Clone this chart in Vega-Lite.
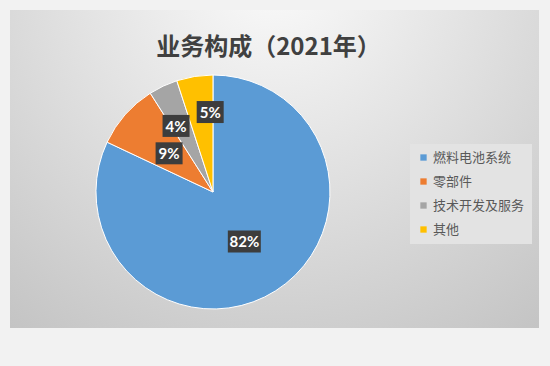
{
  "$schema": "https://vega.github.io/schema/vega-lite/v6.json",
  "width": 529,
  "height": 318,
  "autosize": {"type": "none"},
  "padding": {"left": 10, "top": 10, "right": 11, "bottom": 38},
  "background": "#F2F2F2",
  "title": {
    "text": "业务构成（2021年）",
    "font": "Noto Sans CJK SC",
    "fontSize": 24,
    "fontWeight": "bold",
    "color": "#404040",
    "anchor": "middle",
    "offset": -50,
    "dx": -6
  },
  "config": {
    "view": {
      "stroke": null,
      "fill": {
        "gradient": "radial",
        "x1": 0.5, "y1": 0.12, "r1": 0,
        "x2": 0.5, "y2": 0.12, "r2": 0.95,
        "stops": [
          {"offset": 0, "color": "#FBFBFB"},
          {"offset": 1, "color": "#BDBDBD"}
        ]
      }
    }
  },
  "data": {
    "values": [
      {"cat": "燃料电池系统", "value": 82, "idx": 1, "label": "82%"},
      {"cat": "零部件", "value": 9, "idx": 2, "label": "9%"},
      {"cat": "技术开发及服务", "value": 4, "idx": 3, "label": "4%"},
      {"cat": "其他", "value": 5, "idx": 4, "label": "5%"}
    ]
  },
  "layer": [
    {
      "mark": {"type": "arc", "outerRadius": 117, "stroke": "#FFFFFF", "strokeWidth": 1},
      "encoding": {
        "theta": {"field": "value", "type": "quantitative", "stack": true},
        "order": {"field": "idx", "type": "quantitative"},
        "x": {"datum": 0.3837, "type": "quantitative", "scale": {"domain": [0, 1]}, "axis": null},
        "y": {"datum": 0.4277, "type": "quantitative", "scale": {"domain": [0, 1]}, "axis": null},
        "color": {
          "field": "cat",
          "type": "nominal",
          "sort": null,
          "scale": {
            "domain": ["燃料电池系统", "零部件", "技术开发及服务", "其他"],
            "range": ["#5B9BD5", "#ED7D31", "#A5A5A5", "#FFC000"]
          },
          "legend": {
            "title": null,
            "orient": "none",
            "legendX": 400,
            "legendY": 134,
            "fillColor": "#E3E3E3",
            "padding": 7,
            "symbolType": "square",
            "symbolSize": 40,
            "symbolStrokeWidth": 0,
            "labelFont": "Noto Sans CJK SC",
            "labelFontSize": 13,
            "labelColor": "#595959",
            "rowPadding": 10,
            "labelOffset": 3
          }
        }
      }
    },
    {
      "transform": [
        {"joinaggregate": [{"op": "sum", "field": "value", "as": "total"}]},
        {"window": [{"op": "sum", "field": "value", "as": "cum"}], "sort": [{"field": "idx"}], "frame": [null, 0]},
        {"calculate": "datum.idx == 3 ? -4 : datum.idx == 4 ? 7 : 0", "as": "da"},
        {"calculate": "datum.idx == 3 ? 75.7 : datum.idx == 4 ? 80 : 58.5", "as": "lr"},
        {"calculate": "(datum.cum - datum.value / 2) / datum.total * 2 * PI + datum.da * PI / 180", "as": "mid"},
        {"calculate": "0.3837 + datum.lr * sin(datum.mid) / 529", "as": "lx"},
        {"calculate": "0.4277 + datum.lr * cos(datum.mid) / 318", "as": "ly"}
      ],
      "encoding": {
        "x": {"field": "lx", "type": "quantitative", "scale": {"domain": [0, 1]}, "axis": null},
        "y": {"field": "ly", "type": "quantitative", "scale": {"domain": [0, 1]}, "axis": null}
      },
      "layer": [
        {
          "transform": [{"filter": "datum.idx == 1"}],
          "mark": {"type": "point", "shape": "M-1,-0.667L1,-0.667L1,0.667L-1,0.667Z", "size": 1089, "filled": true, "color": "#3D3D3D", "opacity": 1}
        },
        {
          "transform": [{"filter": "datum.idx > 1"}],
          "mark": {"type": "point", "shape": "M-1,-0.815L1,-0.815L1,0.815L-1,0.815Z", "size": 729, "filled": true, "color": "#3D3D3D", "opacity": 1}
        },
        {
          "mark": {"type": "text", "font": "Lato", "fontSize": 15, "fontWeight": "bold", "baseline": "middle", "align": "center", "color": "#FFFFFF", "dy": 1},
          "encoding": {"text": {"field": "label"}}
        }
      ]
    }
  ]
}
